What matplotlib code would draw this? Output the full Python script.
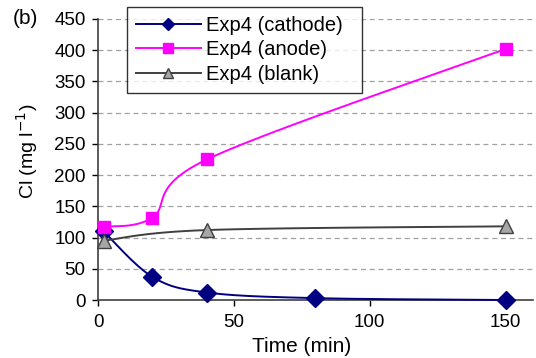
import numpy as np
import matplotlib
matplotlib.use("Agg")
import matplotlib.pyplot as plt
from matplotlib.lines import Line2D

plt.rcParams['font.family'] = ['Liberation Sans', 'DejaVu Sans']

# Measured chloride concentration over time
time_cathode = [2, 20, 40, 80, 150]
cl_cathode = [110, 37, 12, 3, 0]

time_anode = [2, 20, 40, 150]
cl_anode = [117, 132, 225, 402]

time_blank = [2, 40, 150]
cl_blank = [95, 112, 118]

y_ticks = [0, 50, 100, 150, 200, 250, 300, 350, 400, 450]
x_ticks = [0, 50, 100, 150]


def smooth_curve(x, y, n=60):
    """Catmull-Rom style smoothing through every point (spreadsheet 'smoothed line')."""
    x = np.asarray(x, float)
    y = np.asarray(y, float)
    px = np.concatenate([[x[0]], x, [x[-1]]])
    py = np.concatenate([[y[0]], y, [y[-1]]])
    xs, ys = [], []
    for i in range(1, len(px) - 2):
        p0 = np.array([px[i - 1], py[i - 1]])
        p1 = np.array([px[i], py[i]])
        p2 = np.array([px[i + 1], py[i + 1]])
        p3 = np.array([px[i + 2], py[i + 2]])
        c1 = p1 + (p2 - p0) / 6.0
        c2 = p2 - (p3 - p1) / 6.0
        t = np.linspace(0, 1, n)[:, None]
        pts = ((1 - t) ** 3) * p1 + 3 * ((1 - t) ** 2) * t * c1 + 3 * (1 - t) * t ** 2 * c2 + t ** 3 * p2
        xs.append(pts[:, 0])
        ys.append(pts[:, 1])
    return np.concatenate(xs), np.concatenate(ys)


fig = plt.figure(figsize=(5.36, 3.58), dpi=100)
ax = fig.add_axes([0.183, 0.162, 0.811, 0.785])

# (x, y, line colour, marker, face, edge, plot marker size, legend marker size, label)
series = [
    (time_cathode, cl_cathode, '#000080', 'D', '#000080', '#000080', 9, 6.5, 'Exp4 (cathode)'),
    (time_anode, cl_anode, '#FF00FF', 's', '#FF00FF', '#FF00FF', 8.5, 6.5, 'Exp4 (anode)'),
    (time_blank, cl_blank, '#404040', '^', '#A6A6A6', '#404040', 9.5, 7.5, 'Exp4 (blank)'),
]

handles = []
for x, y, lc, mk, mfc, mec, ms, lms, label in series:
    sx, sy = smooth_curve(x, y)
    ax.plot(sx, sy, color=lc, lw=1.4, zorder=3, clip_on=False)
    ax.plot(x, y, ls='none', marker=mk, ms=ms, mfc=mfc, mec=mec, mew=1.0, zorder=4, clip_on=False)
    handles.append(Line2D([], [], color=lc, lw=1.4, marker=mk, ms=lms, mfc=mfc, mec=mec, mew=1.0))

ax.set_xlim(0, 160)
ax.set_ylim(0, 450)
ax.set_xticks(x_ticks)
ax.set_yticks(y_ticks)
ax.tick_params(axis='both', labelsize=13.5, colors='#000000', direction='out', length=4, width=1)
ax.tick_params(axis='x', pad=6)
ax.tick_params(axis='y', pad=5)

for v in y_ticks[1:]:
    ax.axhline(v, color='#A0A0A0', lw=0.9, ls=(0, (4, 3)), zorder=1)

for s in ['top', 'right']:
    ax.spines[s].set_visible(False)
for s in ['left', 'bottom']:
    ax.spines[s].set_color('#404040')
    ax.spines[s].set_linewidth(1.2)

ax.set_xlabel('Time (min)', fontsize=15)
ax.xaxis.set_label_coords(0.469, -0.13)
ax.set_ylabel('Cl (mg l$^{-1}$)', fontsize=14)
ax.yaxis.set_label_coords(-0.133, 0.53)

fig.text(0.024, 0.947, '(b)', fontsize=15, ha='left', va='center')

leg = ax.legend(handles, [s[-1] for s in series], loc='upper left',
                bbox_to_anchor=(0.0667, 1.043, 0.54, 0.0), mode='expand',
                fontsize=14.5, frameon=True,
                fancybox=False, edgecolor='#000000', handlelength=3.2,
                borderpad=0.45, labelspacing=0.27, handletextpad=0.25,
                borderaxespad=0)
leg.get_frame().set_linewidth(1.0)
leg.set_zorder(5)

fig.savefig('out.png', dpi=100)
